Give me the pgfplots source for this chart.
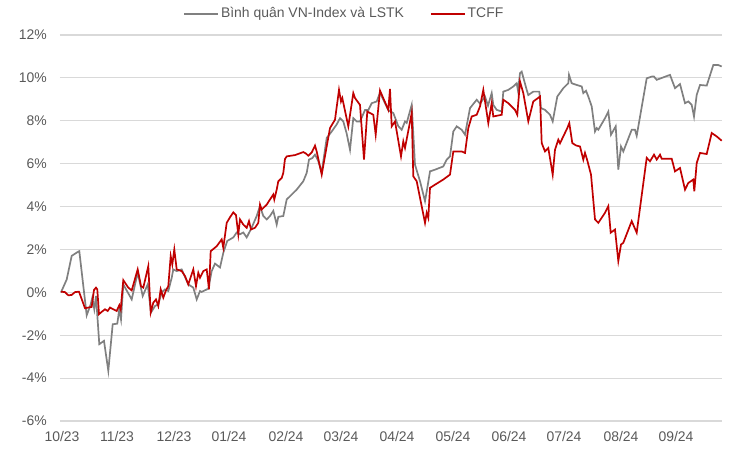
\documentclass[border=0pt]{standalone}
\usepackage{fontspec}
\setmainfont{Liberation Sans}
\usepackage{pgfplots}
\pgfplotsset{compat=1.18}
\definecolor{gline}{RGB}{128,128,128}
\definecolor{rline}{RGB}{192,0,0}
\definecolor{gridc}{RGB}{217,217,217}
\definecolor{txt}{RGB}{89,89,89}
\begin{document}
\begin{tikzpicture}
\begin{axis}[
  scale only axis, width=662bp, height=386bp,
  xmin=60, xmax=722, ymin=-6, ymax=12,
  axis line style={draw=none},
  major tick length=0pt,
  ytick={-6,-4,...,12},
  yticklabels={-6\%,-4\%,-2\%,0\%,2\%,4\%,6\%,8\%,10\%,12\%},
  xtick={62,117,174,229,286,341,397,453,509,564,621,676},
  xticklabels={10/23,11/23,12/23,01/24,02/24,03/24,04/24,05/24,06/24,07/24,08/24,09/24},
  ymajorgrids, grid style={gridc, line width=1.2bp},
  tick label style={font=\fontsize{14}{16}\selectfont, text=txt},
  yticklabel style={inner sep=0pt, xshift=-13bp},
  xticklabel style={inner sep=0pt, yshift=-10bp},
  clip=false,
  legend columns=2,
  legend style={draw=none, fill=none, at={(0.186,1.054)}, anchor=west,
    font=\fontsize{14}{16}\selectfont, text=txt, inner sep=0pt,
    nodes={text height=10bp, text depth=3bp, inner sep=2bp},
    /tikz/every even column/.append style={column sep=24bp}},
  legend cell align=left,
  legend image code/.code={\draw[#1] (0bp,0bp) -- (34bp,0bp);},
]
\addplot[gline, line width=1.7bp] coordinates {
(61,0) (66.7,0.6) (71.7,1.7) (78.3,1.9) (79.3,1.92) (86.7,-1.07) (90.7,-0.56) (92.3,-0.25) (94.3,-0.79) (96,-0.17)
(99.3,-2.42) (104,-2.26) (108.3,-3.66) (112.7,-1.49) (117.3,-1.46) (119.3,-0.79) (121,-1.26) (123.3,0.37) (131.7,-0.33) (137.7,0.92)
(142.7,-0.17) (147.7,0.37) (151,-0.94) (155,-0.64) (158.3,-0.56) (161.7,0) (165,0.14) (168.3,0.06) (171.7,0.68) (173.3,1.07)
(176.7,0.99) (181.7,1.07) (188.3,0.37) (193.3,0.22) (196.7,-0.33) (200,0.06) (201.7,0.02) (208.3,0.17) (211.7,0.99) (215,1.34)
(220,1.16) (223.3,1.84) (227.3,2.4) (230,2.47) (233.3,2.56) (236.7,2.79) (240,2.71) (243.3,2.79) (246.7,2.56) (251.7,3.02)
(256.7,3.56) (260,4.02) (263.3,3.56) (266.7,3.4) (270,3.56) (273.3,3.8) (276.7,3.16) (278.3,3.52) (283.3,3.56) (286.7,4.33)
(291.7,4.56) (296.7,4.79) (303.3,5.18) (306.7,5.57) (309,6.19) (312.3,6.26) (315,6.42) (318,6.15) (321.7,5.6) (326.7,7.2)
(331.7,7.5) (336.7,7.83) (340,8.12) (343.3,7.97) (346.7,7.4) (350,6.65) (353.3,8.12) (356.7,7.97) (360,7.97) (365,8.5)
(368.3,8.5) (371.7,8.82) (376.7,8.9) (380,9.31) (385,8.82) (388.3,8.5) (393.3,8.36) (398.3,7.75) (401.7,7.58) (405,7.97)
(406.7,7.9) (411.7,8.74) (415,5.95) (420,5.18) (425,4.25) (427.3,4.87) (430,5.64) (435,5.72) (443.3,5.87) (446.7,6.19)
(450,6.34) (453.3,7.5) (456.7,7.74) (461.7,7.58) (465,7.35) (470,8.59) (476.7,8.98) (480,8.8) (485,9.13) (488,8.7)
(491.7,9.29) (493.3,8.74) (496.7,8.51) (501.7,8.43) (503.3,9.36) (508.3,9.44) (513.3,9.6) (516.7,9.75) (518,9.4) (520,10.22)
(521.7,10.29) (526.7,9.44) (528.3,9.2) (533.3,9.36) (539.3,9.36) (541,8.59) (545,8.51) (550,8.28) (552.7,7.97) (557.3,9.13)
(563.3,9.52) (568.3,9.75) (569,10.14) (571.7,9.75) (576.7,9.67) (581.7,9.6) (583.3,9.29) (586,9.4) (588.3,9.13) (591.7,8.67)
(595,7.5) (596.7,7.66) (598.3,7.58) (605,8.12) (608.3,8.43) (611,7.35) (615.7,7.74) (618.3,5.72) (621,6.8) (623.3,6.57)
(631.7,7.58) (635,7.58) (636.7,7.3) (646.7,9.98) (651.7,10.06) (654,10.06) (656.7,9.91) (670,10.14) (675,9.52) (680,9.71)
(685,8.82) (688.3,8.9) (691.7,8.74) (694,8.2) (696.7,9.21) (700,9.67) (706.7,9.64) (713.3,10.6) (718.3,10.6) (721.7,10.53)
};
\addlegendentry{Bình quân VN-Index và LSTK}
\addplot[rline, line width=1.7bp] coordinates {
(61,0.03) (65,0.01) (68.3,-0.14) (71.7,-0.12) (75,0.01) (79,0.03) (85,-0.74) (88.3,-0.71) (91.7,-0.68) (94,0.11)
(96,0.22) (97.3,0.14) (99,-1.02) (101.7,-0.91) (105,-0.79) (107.7,-0.87) (110,-0.71) (113.3,-0.79) (116.7,-0.87) (119.3,-0.6)
(120.7,-0.79) (123.3,0.57) (128.3,0.22) (131.7,0.09) (137.7,1.07) (141,0.29) (143.3,0.22) (148.3,1.22) (150.7,-0.94) (153.3,-0.48)
(156,-0.33) (158.3,-0.64) (160.7,0.14) (163.3,-0.25) (165.7,0.06) (168.3,0.29) (170.7,1.69) (172.3,1.3) (174.3,2.0) (176.7,1.07)
(181.7,0.99) (185,0.76) (188.3,0.37) (193.3,1.07) (196,0.29) (198.3,0.91) (200,0.68) (203.3,0.99) (206.7,1.07) (209,0.14)
(210.7,1.92) (216.7,2.15) (221.7,2.47) (223.3,2.08) (226.7,3.24) (230,3.5) (233.3,3.73) (236,3.6) (238.3,2.7) (240,3.4)
(243.3,3.16) (246.7,3.01) (249,3.32) (251,2.93) (255,3.01) (258.3,3.24) (260,4.09) (261.7,3.86) (266.7,4.09) (270,4.33)
(273.3,4.56) (274.3,4.33) (276.7,4.79) (278.3,5.18) (281.7,5.33) (283.3,5.57) (285,6.22) (286.7,6.34) (295,6.4) (303.3,6.54)
(306,6.47) (308.3,6.37) (311.7,6.52) (315,6.84) (316.7,6.57) (321.7,5.49) (327.3,6.96) (330,7.66) (335,8.05) (339,9.44)
(341,8.9) (342.3,9.06) (348.3,7.74) (353.3,9.29) (355,9.06) (360,8.74) (364,6.19) (367.3,8.43) (373.3,8.28) (375.7,7.35)
(380,9.41) (388.3,8.51) (390,9.49) (391.7,7.74) (395,7.97) (401,6.34) (403.3,7.04) (405,6.73) (411.7,8.36) (413.3,5.41)
(416.7,5.18) (425,3.24) (426.7,3.71) (428.3,3.47) (430,4.87) (435,5.02) (443.3,5.26) (450,5.49) (453.3,6.57) (461.7,6.57)
(465,6.5) (468.3,7.66) (471.7,8.2) (476.7,8.28) (480,8.67) (483.3,9.44) (488.3,7.89) (491.7,8.82) (493.3,8.2) (501.7,8.28)
(503.3,8.98) (508.3,8.82) (515,8.51) (517.3,8.28) (520,9.83) (523.3,9.29) (528.3,7.97) (533.3,8.9) (540,9.13) (541.7,6.96)
(545,6.57) (548.3,6.73) (552.7,5.49) (555,6.65) (558.3,7.12) (560,6.95) (567.3,7.66) (569.3,7.89) (572.3,6.96) (576,6.85)
(580,6.8) (583.3,6.19) (585,6.5) (587,6.2) (591,5.49) (595,3.4) (598.3,3.24) (605,3.71) (608.3,4.02) (610.7,2.78)
(615,2.93) (618.3,1.46) (621,2.23) (623.3,2.31) (631.7,3.32) (636.7,2.78) (646.7,6.27) (650,6.11) (654,6.42) (656.7,6.19)
(660,6.42) (661.7,6.23) (671.7,6.23) (675,5.64) (680,5.8) (685,4.79) (688.3,5.1) (693.3,5.26) (694.3,4.71) (696.7,6.03)
(700,6.5) (706.7,6.45) (711.7,7.43) (716.7,7.27) (721.7,7.07)
};
\addlegendentry{TCFF}
\end{axis}
\pgfresetboundingbox
\path[use as bounding box] (-60bp,-31bp) rectangle (674bp,421bp);
\end{tikzpicture}
\end{document}
